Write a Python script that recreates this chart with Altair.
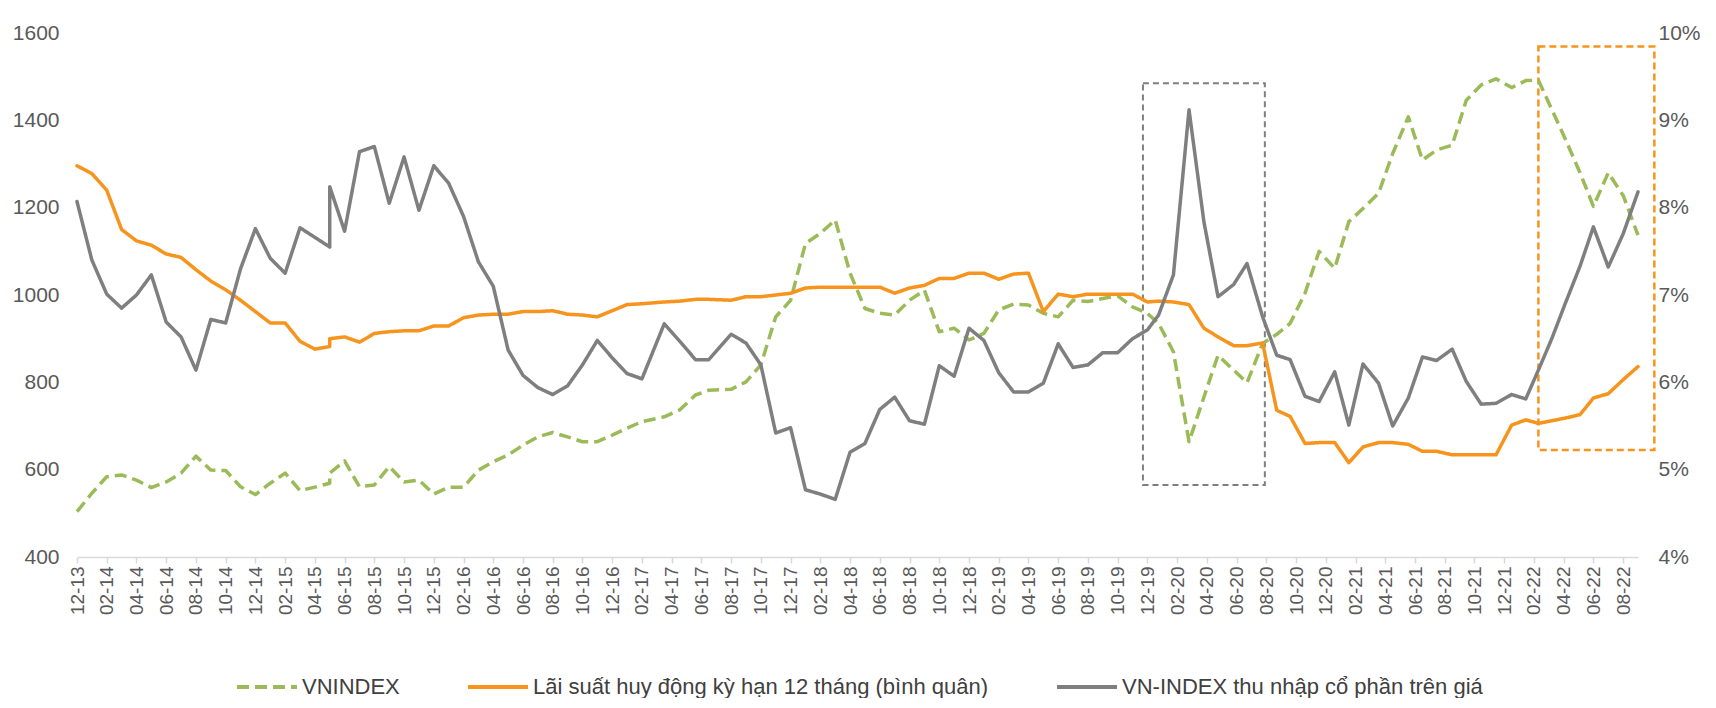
import json
import altair as alt
import pandas as pd

# ---------------- data ----------------
# category axis: one slot per month, 12-13 ... 09-22
months = ["12-13"] + [f"{mm:02d}-{yy:02d}" for yy in range(14, 22) for mm in range(1, 13)] + \
         [f"{mm:02d}-22" for mm in range(1, 10)]

# where each reading sits on that axis, in months after 12-13 (readings are not all month-aligned)
reading_pos = (list(range(0, 17)) + [17, 17] + list(range(18, 39)) + [39.5, 40.55, 41.6, 42.5] +
               list(range(44, 73)) +
               [72.75, 73.75, 74.8, 75.8, 76.75, 77.8, 78.7, 79.75, 80.7, 81.6, 82.6, 83.55, 84.6,
                85.55, 86.5, 87.55, 88.5, 89.55, 90.5, 91.45, 92.5, 93.45, 94.45, 95.45, 96.5, 97.45,
                98.3, 99.2, 100.1, 101.1, 102, 103, 104, 105])

vnindex = [504, 546, 584, 588, 576, 559, 572, 592, 631, 599, 598, 561, 543, 569, 592, 552, 560,
           569, 592,
           620, 561, 565, 607, 572, 576, 544, 560, 560, 599, 618, 634, 656, 675, 685, 675, 664, 664,
           679, 695, 710,
           721, 737, 771, 782,
           784, 801, 840, 950, 988, 1118, 1141, 1172, 1050, 969, 958, 954, 988, 1011, 916, 924, 897,
           912, 966, 979, 977, 958, 950, 988, 985, 992, 998, 973, 958,
           935, 870, 664, 766, 862, 828, 799, 889, 910, 935, 1004, 1100, 1061, 1168, 1198, 1233, 1324,
           1408, 1309, 1332, 1343, 1446, 1481, 1495, 1475, 1491,
           1492, 1425, 1358, 1280, 1203, 1280, 1228, 1137]

deposit_rate = [8.48, 8.39, 8.20, 7.75, 7.62, 7.57, 7.47, 7.43, 7.29, 7.16, 7.06, 6.94, 6.81, 6.68,
                6.68, 6.47, 6.38,
                6.41, 6.50,
                6.52, 6.46, 6.56, 6.58, 6.59, 6.59, 6.645, 6.645, 6.74, 6.77, 6.78, 6.78, 6.81, 6.81,
                6.82, 6.78, 6.77, 6.75, 6.82, 6.89, 6.90,
                6.92, 6.93, 6.95, 6.95,
                6.94, 6.98, 6.98, 7.00, 7.02, 7.08, 7.09, 7.09, 7.09, 7.09, 7.09, 7.02, 7.08, 7.11,
                7.19, 7.19, 7.25, 7.25, 7.18, 7.24, 7.25, 6.81, 7.01, 6.98, 7.01, 7.01, 7.01, 7.01, 6.92,
                6.93, 6.92, 6.89, 6.62, 6.52, 6.42, 6.42, 6.45, 5.68, 5.61, 5.30, 5.31, 5.31, 5.08,
                5.26, 5.31, 5.31, 5.29, 5.21, 5.21, 5.17, 5.17, 5.17, 5.17, 5.51, 5.57,
                5.53, 5.56, 5.59, 5.63, 5.82, 5.87, 6.03, 6.18]

earnings_yield = [8.07, 7.40, 7.01, 6.85, 7.00, 7.23, 6.69, 6.52, 6.14, 6.72, 6.68, 7.30, 7.76, 7.42,
                  7.25, 7.77, 7.66,
                  7.55, 8.24,
                  7.73, 8.64, 8.70, 8.05, 8.58, 7.97, 8.48, 8.28, 7.90, 7.38, 7.10, 6.37, 6.08, 5.94,
                  5.86, 5.96, 6.20, 6.48, 6.28, 6.10, 6.04,
                  6.67, 6.47, 6.26, 6.26,
                  6.55, 6.45, 6.20, 5.42, 5.48, 4.77, 4.72, 4.66, 5.20, 5.30, 5.69, 5.83, 5.56, 5.52,
                  6.19, 6.07, 6.62, 6.48, 6.11, 5.89, 5.89, 5.99, 6.44, 6.17, 6.20, 6.34, 6.34, 6.50,
                  6.60,
                  6.77, 7.23, 9.12, 7.84, 6.98, 7.12, 7.36, 6.75, 6.31, 6.26, 5.84, 5.78, 6.12, 5.51,
                  6.21, 5.99, 5.50, 5.82, 6.29, 6.25, 6.38, 6.01, 5.75, 5.76, 5.86, 5.81,
                  6.14, 6.50, 6.90, 7.33, 7.78, 7.32, 7.70, 8.18]

series_names = ["VNINDEX",
                "Lãi suất huy động kỳ hạn 12 tháng (bình quân)",
                "VN-INDEX thu nhập cổ phần trên giá"]
series_colors = ["#9BBB59", "#F7941D", "#7F7F7F"]

left_ticks = [400, 600, 800, 1000, 1200, 1400, 1600]
right_ticks = [4, 5, 6, 7, 8, 9, 10]

# highlight boxes (month position, VNINDEX scale)
box_kind = ["gray", "orange"]
box_x0 = [71.7, 98.3]
box_x1 = [79.9, 106.1]
box_lo = [565, 645]
box_hi = [1485, 1569]

assert len(reading_pos) == len(vnindex) == len(deposit_rate) == len(earnings_yield), \
    (len(reading_pos), len(vnindex), len(deposit_rate), len(earnings_yield))

rows = []
for i, (t, a, b, c) in enumerate(zip(reading_pos, vnindex, deposit_rate, earnings_yield)):
    rows.append({"o": i, "t": t, "series": series_names[0], "value": a})
    rows.append({"o": i, "t": t, "series": series_names[1], "value": b})
    rows.append({"o": i, "t": t, "series": series_names[2], "value": c})
df = pd.DataFrame(rows)
boxes = pd.DataFrame({"kind": box_kind, "x0": box_x0, "x1": box_x1, "lo": box_lo, "hi": box_hi})

FONT = "Liberation Sans"
LABEL = "#595959"

x_scale = alt.Scale(domain=[0, len(months) - 1], nice=False, zero=False)
x_axis = alt.Axis(values=list(range(0, len(months) - 1, 2)),
                  labelExpr=json.dumps(months) + "[datum.value]",
                  labelAngle=270, labelAlign="right", labelBaseline="middle",
                  labelFontSize=19, labelColor=LABEL, labelFont=FONT, labelPadding=3,
                  labelFlush=False, labelOverlap=False,
                  domainColor="#D9D9D9", domainWidth=1.5,
                  tickColor="#D9D9D9", tickWidth=1.5, tickSize=6,
                  grid=False, title=None)
left_scale = alt.Scale(domain=[400, 1600], nice=False, zero=False)
right_scale = alt.Scale(domain=[4, 10], nice=False, zero=False)
left_axis = alt.Axis(values=left_ticks, format="d", domain=False, ticks=False, tickSize=0, grid=False,
                     labelFontSize=21, labelColor=LABEL, labelFont=FONT, labelPadding=18, title=None)
right_axis = alt.Axis(values=right_ticks, orient="right", domain=False, ticks=False, tickSize=0,
                      grid=False, labelExpr="datum.value + '%'",
                      labelFontSize=21, labelColor=LABEL, labelFont=FONT, labelPadding=20, title=None)

leg = alt.Legend(orient="none", legendX=158, legendY=622, direction="horizontal", title=None,
                 symbolType="stroke", symbolSize=3600, symbolStrokeWidth=4,
                 labelFontSize=22, labelColor="#404040", labelFont=FONT,
                 columnPadding=60, labelOffset=3, padding=0, labelLimit=0)
color = alt.Color("series:N", scale=alt.Scale(domain=series_names, range=series_colors), legend=leg)
dash = alt.StrokeDash("series:N",
                      scale=alt.Scale(domain=series_names, range=[[12, 6], [1, 0], [1, 0]]),
                      legend=leg)

box_gray = alt.Chart(boxes).transform_filter(alt.datum.kind == "gray").mark_rect(
    filled=False, stroke="#7F7F7F", strokeWidth=2, strokeDash=[6, 4]
).encode(
    x=alt.X("x0:Q", scale=x_scale, axis=x_axis), x2="x1:Q",
    y=alt.Y("lo:Q", scale=left_scale, axis=None), y2="hi:Q",
)
box_orange = alt.Chart(boxes).transform_filter(alt.datum.kind == "orange").mark_rect(
    filled=False, stroke="#F7941D", strokeWidth=2.5, strokeDash=[7, 4]
).encode(
    x=alt.X("x0:Q", scale=x_scale, axis=x_axis), x2="x1:Q",
    y=alt.Y("lo:Q", scale=left_scale, axis=None), y2="hi:Q",
)

green = alt.Chart(df).transform_filter(alt.datum.series == series_names[0]).mark_line(
    strokeWidth=3.5, strokeCap="butt", strokeJoin="round"
).encode(
    x=alt.X("t:Q", scale=x_scale, axis=x_axis),
    y=alt.Y("value:Q", scale=left_scale, axis=left_axis),
    color=color, strokeDash=dash, order="o:Q",
)
right = alt.Chart(df).transform_filter(alt.datum.series != series_names[0]).mark_line(
    strokeWidth=3.5, strokeCap="round", strokeJoin="round"
).encode(
    x=alt.X("t:Q", scale=x_scale, axis=x_axis),
    y=alt.Y("value:Q", scale=right_scale, axis=right_axis),
    color=color, strokeDash=dash, order="o:Q",
)

chart = alt.layer(box_gray, box_orange, green, right).resolve_scale(y="independent").properties(
    width=1561, height=524,
    autosize=alt.AutoSizeParams(type="none"),
    padding={"left": 69, "top": 25, "right": 70, "bottom": 141},
    background="white",
).configure_view(strokeWidth=0)

chart.save("out.html", embed_options={"renderer": "svg", "actions": False})
